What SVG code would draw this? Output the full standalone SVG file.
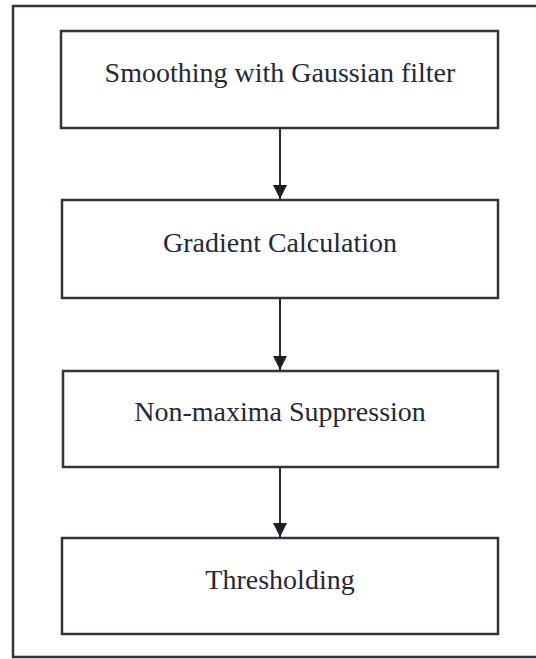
<svg xmlns="http://www.w3.org/2000/svg" width="536" height="659" viewBox="0 0 536 659">
<style>
.frame{fill:none;stroke:#33333f;stroke-width:2.5}
.box{fill:#fff;stroke:#33333f;stroke-width:2.5}
.lbl{font-family:"Liberation Serif","Times New Roman",serif;font-size:28px;fill:#272736;text-anchor:middle}
.conn{stroke:#2a2a33;stroke-width:2;fill:none}
</style>
<defs>
<marker id="ah" markerWidth="14" markerHeight="14" refX="14" refY="7" orient="auto" markerUnits="userSpaceOnUse">
<path d="M0,0 L14,7 L0,14 Z" fill="#1e1e26"/>
</marker>
</defs>
<rect width="536" height="659" fill="#fff"/>
<rect class="frame" x="13" y="6" width="540" height="651"/>
<g id="connectors">
<line class="conn" x1="280" y1="129" x2="280" y2="199" marker-end="url(#ah)"/>
<line class="conn" x1="280" y1="298" x2="280" y2="370" marker-end="url(#ah)"/>
<line class="conn" x1="280" y1="467" x2="280" y2="537" marker-end="url(#ah)"/>
</g>
<g id="n1">
<rect class="box" x="61" y="31" width="437" height="97"/>
<text class="lbl" x="280" y="82">Smoothing with Gaussian filter</text>
</g>
<g id="n2">
<rect class="box" x="62" y="200" width="436" height="98"/>
<text class="lbl" x="280" y="252">Gradient Calculation</text>
</g>
<g id="n3">
<rect class="box" x="63" y="371" width="435" height="96"/>
<text class="lbl" x="280" y="421">Non-maxima Suppression</text>
</g>
<g id="n4">
<rect class="box" x="62" y="538" width="436" height="96"/>
<text class="lbl" x="280" y="589">Thresholding</text>
</g>
</svg>
